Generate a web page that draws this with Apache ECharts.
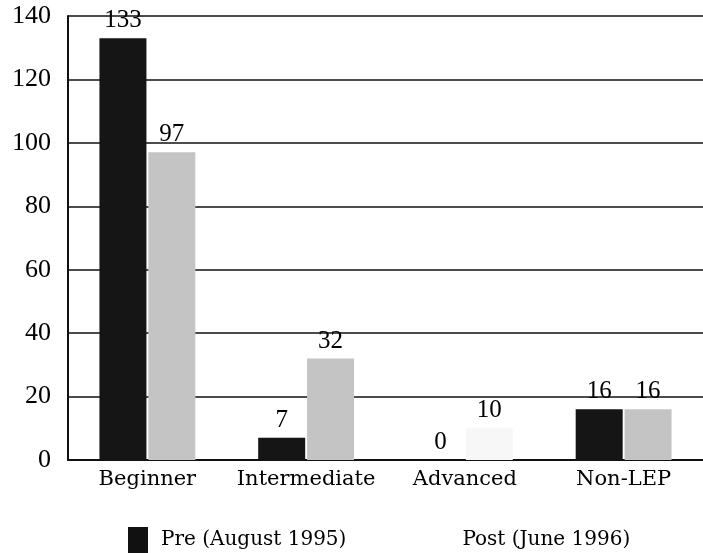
<!DOCTYPE html>
<html>
<head>
<meta charset="utf-8">
<script src="https://cdn.jsdelivr.net/npm/echarts@6/dist/echarts.min.js"></script>
<style>
  html, body { margin: 0; padding: 0; background: #fff; }
  #chart { width: 703px; height: 553px; }
</style>
</head>
<body>
<div id="chart"></div>
<script>
const categories = ['Beginner', 'Intermediate', 'Advanced', 'Non-LEP']
const preValues = [133, 7, 0, 16]
const postValues = [97, 32, 10, 16]
const seriesNames = ['Pre (August 1995)', 'Post (June 1996)']

const chart = echarts.init(document.getElementById('chart'))

const labelStyle = {
  show: true,
  position: 'top',
  distance: 5,
  color: '#000',
  fontFamily: 'Liberation Serif',
  fontSize: 25
}

const options = {
  animation: false,
  // right edge goes a bit past the canvas so the groups sit where the scan has them
  grid: { left: 68, right: -10, top: 16, bottom: 93 },
  legend: {
    left: 123,
    top: 522,
    itemWidth: 20,
    itemHeight: 26,
    itemGap: 83,
    icon: 'rect',
    textStyle: { fontFamily: 'DejaVu Serif', fontSize: 20, color: '#000', padding: [0, 0, 0, 8] },
    data: [
      { name: seriesNames[0], itemStyle: { color: '#111' } },
      { name: seriesNames[1], itemStyle: { color: '#fff' } }
    ]
  },
  xAxis: {
    type: 'category',
    data: categories,
    axisLine: { lineStyle: { color: '#111', width: 2 } },
    axisTick: { show: false },
    axisLabel: { interval: 0, fontFamily: 'DejaVu Serif', fontSize: 21, color: '#000', margin: 9 }
  },
  yAxis: {
    type: 'value',
    min: 0,
    max: 140,
    interval: 20,
    axisLine: { show: true, lineStyle: { color: '#111', width: 2 } },
    axisTick: { show: false },
    splitLine: { lineStyle: { color: '#111', width: 1.5 } },
    axisLabel: { fontFamily: 'Liberation Serif', fontSize: 26, color: '#000', margin: 17 }
  },
  series: [
    {
      name: seriesNames[0],
      type: 'bar',
      data: preValues,
      barWidth: 47,
      barGap: '4%',
      z: 3,
      itemStyle: { color: '#151515' },
      label: labelStyle
    },
    {
      name: seriesNames[1],
      type: 'bar',
      data: postValues,
      barWidth: 47,
      z: 3,
      // the Advanced bar barely printed in the original
      itemStyle: {
        color: p => (p.dataIndex === 2 ? '#f7f7f7' : '#c4c4c4')
      },
      label: labelStyle
    }
  ]
}

chart.setOption(options)
</script>
</body>
</html>
